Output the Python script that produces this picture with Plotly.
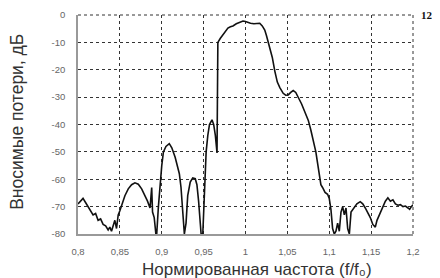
import plotly.graph_objects as go

freq = [0.800, 0.803, 0.806, 0.809, 0.812, 0.815, 0.818, 0.821, 0.824, 0.827,
        0.830, 0.833, 0.836, 0.838, 0.840, 0.842, 0.844, 0.846, 0.848, 0.850,
        0.853, 0.856, 0.860, 0.864, 0.868, 0.872, 0.876, 0.880, 0.883, 0.886,
        0.887, 0.888, 0.889, 0.891, 0.893, 0.894, 0.896, 0.898, 0.900, 0.902,
        0.905, 0.909, 0.912, 0.916, 0.919, 0.921, 0.923, 0.925, 0.927, 0.929,
        0.931, 0.934, 0.937, 0.940, 0.942, 0.944, 0.946, 0.947, 0.949, 0.951,
        0.953, 0.955, 0.957, 0.960, 0.962, 0.964, 0.966, 0.9665, 0.967, 0.970,
        0.973, 0.976, 0.979, 0.982, 0.985, 0.989, 0.993, 0.997, 1.000, 1.003,
        1.006, 1.010, 1.014, 1.017, 1.020, 1.023, 1.025, 1.027, 1.030, 1.032,
        1.035, 1.038, 1.041, 1.045, 1.048, 1.051, 1.054, 1.057, 1.060, 1.064,
        1.067, 1.071, 1.075, 1.078, 1.081, 1.084, 1.086, 1.088, 1.090, 1.092,
        1.095, 1.098, 1.100, 1.102, 1.104, 1.106, 1.108, 1.110, 1.112, 1.114,
        1.116, 1.118, 1.120, 1.122, 1.124, 1.126, 1.128, 1.130, 1.133, 1.137,
        1.140, 1.143, 1.146, 1.149, 1.152, 1.155, 1.157, 1.159, 1.161, 1.164,
        1.167, 1.170, 1.173, 1.176, 1.179, 1.182, 1.185, 1.188, 1.191, 1.194,
        1.196, 1.198, 1.200]

loss_db = [-69, -68, -67, -68.5, -70, -71, -73, -72.5, -75, -74.5,
           -76.5, -77, -78.5, -77.5, -79, -77, -75, -78, -73, -71.5,
           -69, -66, -63.5, -62, -61.3, -61.8, -63.5, -66, -68, -70.5,
           -64, -63, -72, -74, -80, -80, -70, -62, -55, -50,
           -48, -47, -48.5, -52, -55.5, -58, -63, -72, -80, -76,
           -66, -61, -59.5, -59.8, -62, -68, -75, -80, -80, -62,
           -50, -44, -40, -38.3, -40, -44, -50.4, -30, -10, -8.5,
           -7.3, -6, -4.8, -4.3, -4, -3.2, -2.6, -2.2, -2.4, -2.8,
           -3, -3.2, -3.1, -3, -4, -5.5, -7.5, -10, -13, -15.5,
           -20.5, -24.5, -26.5, -28.6, -29.3, -29.2, -28.3, -27.6, -28.3, -30.5,
           -32.5, -35.5, -38.5, -42, -45.6, -50, -54, -59, -62, -63,
           -64.8, -65.5, -67, -71, -78, -80, -79, -76, -79, -72,
           -70, -73, -70.5, -78, -80, -72, -71, -70, -69, -68.2,
           -69, -70.5, -72, -74, -76.5, -77.5, -75, -73.5, -72, -70,
           -68, -66.8, -68, -67.5, -69, -69.5, -69.3, -70, -69.8, -70.5,
           -71, -70, -69.3]

x_ticks = [0.8, 0.85, 0.9, 0.95, 1.0, 1.05, 1.1, 1.15, 1.2]
x_ticklabels = ["0,8", "0,85", "0,9", "0,95", "1", "1,05", "1,1", "1,15", "1,2"]
y_ticks = [0, -10, -20, -30, -40, -50, -60, -70, -80]
y_ticklabels = ["0", "-10", "-20", "-30", "-40", "-50", "-60", "-70", "-80"]

fig = go.Figure()
fig.add_trace(go.Scatter(x=freq, y=loss_db, mode="lines",
                         line=dict(color="#111111", width=1.6),
                         showlegend=False, hoverinfo="skip"))

fig.update_layout(
    width=432, height=270,
    margin=dict(l=70, r=27, t=7, b=44, autoexpand=False),
    paper_bgcolor="white", plot_bgcolor="white",
    font=dict(family="Liberation Sans, Arial, sans-serif", color="#444444"),
    xaxis=dict(
        range=[0.8, 1.2], tickvals=x_ticks, ticktext=x_ticklabels,
        showgrid=True, gridcolor="#333333", griddash="dot", gridwidth=1,
        showline=True, linecolor="#999999", linewidth=1.5, mirror=False,
        ticks="", ticklabelstandoff=8, zeroline=False, automargin=False,
        tickfont=dict(size=9.5, color="#666666"),
    ),
    yaxis=dict(
        range=[-80, 0], tickvals=y_ticks, ticktext=y_ticklabels,
        showgrid=True, gridcolor="#333333", griddash="dot", gridwidth=1,
        showline=True, linecolor="#999999", linewidth=1.5, mirror=False,
        ticks="", ticklabelstandoff=9, zeroline=False, automargin=False,
        tickfont=dict(size=9.5, color="#666666"),
    ),
    shapes=[
        dict(type="line", xref="paper", yref="paper", x0=0, x1=1, y0=1, y1=1,
             line=dict(color="#333333", width=1, dash="dot")),
        dict(type="line", xref="paper", yref="paper", x0=1, x1=1, y0=0, y1=1,
             line=dict(color="#333333", width=1, dash="dot")),
    ],
    annotations=[
        dict(text="<b>12</b>", xref="paper", yref="paper", x=1.042, y=1.0,
             xanchor="center", yanchor="middle", showarrow=False,
             font=dict(family="Liberation Serif, Times New Roman, serif",
                       size=11, color="#111111")),
        dict(text="Вносимые потери, дБ", xref="paper", yref="paper",
             x=-0.181, y=0.514, textangle=-90, xanchor="center", yanchor="middle",
             showarrow=False, font=dict(size=17.5, color="#333333")),
        dict(text="Нормированная частота (f/f₀)", xref="paper", yref="paper",
             x=0.535, y=-0.163, xanchor="center", yanchor="middle",
             showarrow=False, font=dict(size=17, color="#333333")),
    ],
)

fig.write_html("out.html")
